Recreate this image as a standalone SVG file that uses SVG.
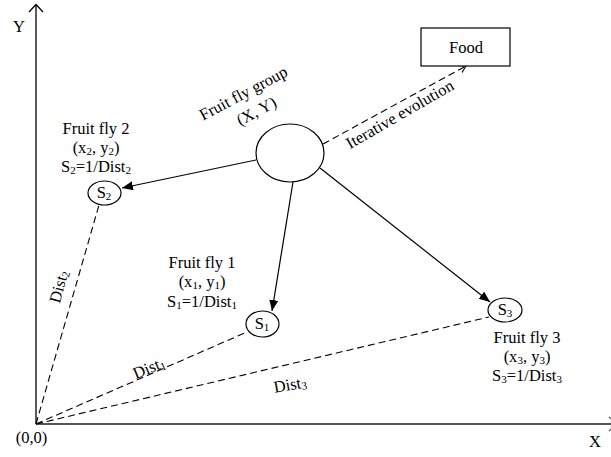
<svg xmlns="http://www.w3.org/2000/svg" width="611" height="457" viewBox="0 0 611 457">
<defs>
<marker id="solid" markerWidth="12" markerHeight="10" refX="11" refY="4.5" orient="auto" markerUnits="userSpaceOnUse">
<path d="M0,0 L11,4.5 L0,9 Z" fill="#000"/>
</marker>
<marker id="open" markerWidth="10" markerHeight="10" refX="7" refY="4" orient="auto" markerUnits="userSpaceOnUse">
<path d="M0,0 L7,4 L0,8" fill="none" stroke="#000" stroke-width="1"/>
</marker>
</defs>
<style>
text{font-family:"Liberation Serif","Times New Roman",serif;font-size:16.5px;fill:#000}
.c{text-anchor:middle}
.sub{font-size:11px}
.node{fill:#fff;stroke:#000;stroke-width:1.2}
.solid{stroke:#000;stroke-width:1.2;fill:none}
.dash{stroke:#000;stroke-width:1.1;fill:none;stroke-dasharray:7,4}
</style>
<rect width="611" height="457" fill="#fff"/>
<g id="axes">
<line x1="36" y1="424" x2="36" y2="5" stroke="#000" stroke-width="1.3"/>
<path d="M29,12 L36,4.5 L43,12" fill="none" stroke="#000" stroke-width="1.2"/>
<line x1="36" y1="424" x2="611" y2="424" stroke="#555" stroke-width="1.8"/>
<path d="M609,417 L617,424 L609,431" fill="none" stroke="#555" stroke-width="1.2"/>
<text x="19" y="32" class="c">Y</text>
<text x="595" y="447" class="c">X</text>
<text x="31.5" y="443" class="c">(0,0)</text>
</g>
<g id="connectors">
<line class="solid" x1="256" y1="160" x2="122" y2="188" marker-end="url(#solid)"/>
<line class="solid" x1="293" y1="182" x2="272" y2="311" marker-end="url(#solid)"/>
<line class="solid" x1="320" y1="168" x2="490" y2="302" marker-end="url(#solid)"/>
<line class="dash" x1="323" y1="144" x2="466" y2="66" marker-end="url(#open)"/>
<line class="dash" x1="36" y1="424" x2="99" y2="205"/>
<line class="dash" x1="36" y1="424" x2="247" y2="332"/>
<line class="dash" x1="36" y1="424" x2="489" y2="317"/>
<text transform="translate(402.5,119) rotate(-30)" class="c">Iterative evolution</text>
<text transform="translate(64,288) rotate(-75)" class="c">Dist<tspan class="sub" dy="2">2</tspan></text>
<text transform="translate(151,373) rotate(-22)" class="c">Dist<tspan class="sub" dy="2">1</tspan></text>
<text transform="translate(291,390) rotate(-10)" class="c">Dist<tspan class="sub" dy="2">3</tspan></text>
</g>
<g id="food">
<rect x="421" y="28" width="89" height="38" class="node"/>
<text x="466" y="53" class="c">Food</text>
</g>
<g id="group">
<ellipse cx="290" cy="153" rx="34" ry="29" class="node"/>
<text transform="translate(246,98) rotate(-28)" class="c">Fruit fly group</text>
<text transform="translate(259,116) rotate(-28)" class="c">(X, Y)</text>
</g>
<g id="fly2">
<ellipse cx="104.5" cy="193" rx="16.5" ry="12" class="node"/>
<text x="104" y="198" class="c">S<tspan class="sub" dy="2">2</tspan></text>
<text x="96" y="134" class="c">Fruit fly 2</text>
<text x="96" y="153" class="c">(x<tspan class="sub" dy="2">2</tspan><tspan dy="-2">, y</tspan><tspan class="sub" dy="2">2</tspan><tspan dy="-2">)</tspan></text>
<text x="96" y="172" class="c">S<tspan class="sub" dy="2">2</tspan><tspan dy="-2">=1/Dist</tspan><tspan class="sub" dy="2">2</tspan></text>
</g>
<g id="fly1">
<ellipse cx="262.5" cy="324" rx="16.5" ry="13" class="node"/>
<text x="262" y="329" class="c">S<tspan class="sub" dy="2">1</tspan></text>
<text x="202" y="268" class="c">Fruit fly 1</text>
<text x="202" y="287" class="c">(x<tspan class="sub" dy="2">1</tspan><tspan dy="-2">, y</tspan><tspan class="sub" dy="2">1</tspan><tspan dy="-2">)</tspan></text>
<text x="202" y="307" class="c">S<tspan class="sub" dy="2">1</tspan><tspan dy="-2">=1/Dist</tspan><tspan class="sub" dy="2">1</tspan></text>
</g>
<g id="fly3">
<ellipse cx="505" cy="310" rx="17" ry="12" class="node"/>
<text x="505" y="315" class="c">S<tspan class="sub" dy="2">3</tspan></text>
<text x="527" y="343" class="c">Fruit fly 3</text>
<text x="527" y="362" class="c">(x<tspan class="sub" dy="2">3</tspan><tspan dy="-2">, y</tspan><tspan class="sub" dy="2">3</tspan><tspan dy="-2">)</tspan></text>
<text x="527" y="381" class="c">S<tspan class="sub" dy="2">3</tspan><tspan dy="-2">=1/Dist</tspan><tspan class="sub" dy="2">3</tspan></text>
</g>
</svg>
